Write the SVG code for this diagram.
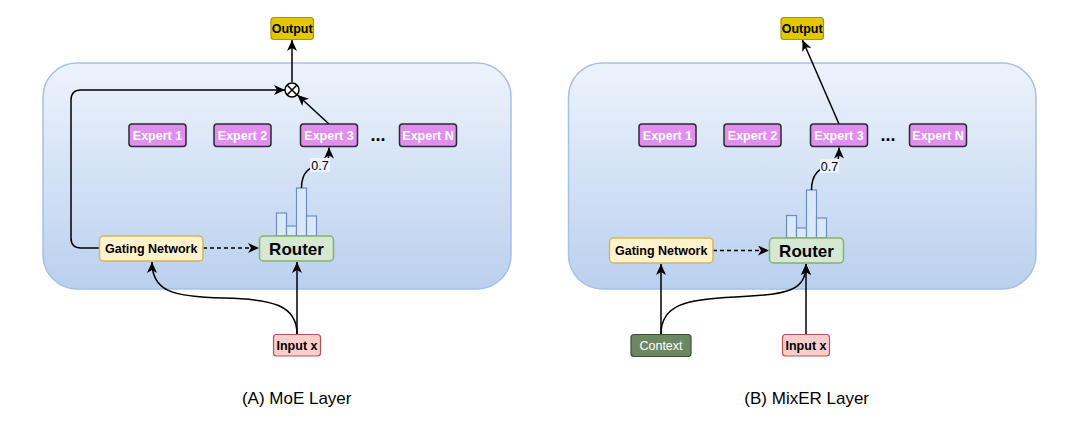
<svg xmlns="http://www.w3.org/2000/svg" width="1080" height="435" viewBox="0 0 1080 435">
<defs>
<linearGradient id="bg" x1="0" y1="0" x2="0" y2="1">
<stop offset="0" stop-color="#edf3fc"/>
<stop offset="1" stop-color="#bad0ee"/>
</linearGradient>
<marker id="arr" markerUnits="userSpaceOnUse" markerWidth="12" markerHeight="10" refX="11" refY="5" orient="auto">
<path d="M0,0 L11,5 L0,10 L3,5 Z" fill="#000"/>
</marker>
<style>
text{font-family:"Liberation Sans",Arial,Helvetica,sans-serif;text-anchor:middle}
.cont{fill:url(#bg);stroke:#a6c0e6;stroke-width:1.5}
.exp rect{fill:#e28ef1;stroke:#2b2b2b;stroke-width:1.5}
.exp text{fill:#fff;font-weight:bold;font-size:12.5px}
.out rect{fill:#e3c800;stroke:#b09500;stroke-width:1.2}
.out text,.inp text,.gate text{fill:#000;font-weight:bold;font-size:12.5px}
.inp rect{fill:#f8cecc;stroke:#b85450;stroke-width:1.2}
.ctx rect{fill:#6d8764;stroke:#3a5431;stroke-width:1.2}
.ctx text{fill:#fff;font-size:12.5px}
.gate rect{fill:#fff2cc;stroke:#d6b656;stroke-width:1.5}
.rout rect{fill:#d5e8d4;stroke:#82b366;stroke-width:1.5}
.rout text{fill:#000;font-weight:bold;font-size:17px}
.bar rect{fill:#dae8fc;stroke:#6c8ebf;stroke-width:1.2}
.dots{font-weight:bold;font-size:18px;fill:#000}
.lbl rect{fill:#eef4fc}
.lbl text{font-size:12.5px;fill:#000}
.cap{font-size:17px;fill:#000}
.c path,.c line{fill:none;stroke:#000;stroke-width:1.5}
.c .a{marker-end:url(#arr)}
.c .d{stroke-dasharray:4 3}
</style>
</defs>

<g id="layerA"><rect class="cont" x="43" y="63" width="468" height="226" rx="34"/></g>
<g id="layerB"><rect class="cont" x="568.5" y="63" width="467.5" height="226" rx="34"/></g>

<g id="histA" class="bar">
<rect x="276.5" y="213" width="10" height="23"/>
<rect x="286.5" y="226" width="10" height="10"/>
<rect x="296.5" y="188" width="10" height="48"/>
<rect x="306.5" y="216" width="10" height="20"/>
</g>
<g id="histB" class="bar">
<rect x="786.5" y="215.5" width="10" height="22.5"/>
<rect x="796.5" y="228" width="10" height="10"/>
<rect x="806.5" y="190" width="10" height="48"/>
<rect x="816.5" y="218" width="10" height="20"/>
</g>

<g id="connectors" class="c">
<path class="a" d="M292,82 V40"/>
<path class="a" d="M329,124 L297.5,95"/>
<path class="a" d="M99,248 H81 Q71,248 71,238 V100 Q71,90 81,90 H285"/>
<path class="a d" d="M203,248 H259"/>
<path class="a" d="M297,334 V262"/>
<path class="a" d="M297,334 C297,305 272,299 224,298 C170,297 152,290 152,262"/>
<path class="a" d="M301.5,188 C301.5,172 310,166 320,166 C328,166 329,160 329,147.5"/>
<path class="a" d="M839,124 L802.5,40"/>
<path class="a d" d="M713,250.5 H769"/>
<path class="a" d="M661,334 V264"/>
<path class="a" d="M806,334 V264"/>
<path class="a" d="M661,334 C661,305 686,299 735,297 C790,295 806,290 806,264"/>
<path class="a" d="M811.5,190 C811.5,174 820,167 829,167 C838,167 839,160 839,147.5"/>
</g>

<g id="mulA">
<circle cx="292" cy="90" r="7" fill="#fff" stroke="#000" stroke-width="1.5"/>
<path d="M287,85 L297,95 M297,85 L287,95" stroke="#000" stroke-width="1.5"/>
</g>

<g id="lblA" class="lbl"><rect x="310" y="158" width="20" height="14"/><text x="320" y="169.5">0.7</text></g>
<g id="lblB" class="lbl"><rect x="820" y="159" width="19" height="14"/><text x="829.5" y="170.5">0.7</text></g>

<g id="outA" class="out"><rect x="271" y="17.5" width="42.5" height="22" rx="3"/><text x="292.2" y="32.8">Output</text></g>
<g id="outB" class="out"><rect x="781" y="17.5" width="42.5" height="22" rx="3"/><text x="802.2" y="32.8">Output</text></g>

<g id="expA1" class="exp"><rect x="129" y="124" width="57" height="22.5" rx="3"/><text x="157.5" y="139.8">Expert 1</text></g>
<g id="expA2" class="exp"><rect x="214" y="124" width="57" height="22.5" rx="3"/><text x="242.5" y="139.8">Expert 2</text></g>
<g id="expA3" class="exp"><rect x="300.5" y="124" width="57" height="22.5" rx="3"/><text x="329" y="139.8">Expert 3</text></g>
<g id="expAN" class="exp"><rect x="399.5" y="124" width="57" height="22.5" rx="3"/><text x="428" y="139.8">Expert N</text></g>
<text class="dots" x="378" y="140.5">...</text>

<g id="expB1" class="exp"><rect x="639" y="124" width="57" height="22.5" rx="3"/><text x="667.5" y="139.8">Expert 1</text></g>
<g id="expB2" class="exp"><rect x="724" y="124" width="57" height="22.5" rx="3"/><text x="752.5" y="139.8">Expert 2</text></g>
<g id="expB3" class="exp"><rect x="810.5" y="124" width="57" height="22.5" rx="3"/><text x="839" y="139.8">Expert 3</text></g>
<g id="expBN" class="exp"><rect x="909.5" y="124" width="57" height="22.5" rx="3"/><text x="938" y="139.8">Expert N</text></g>
<text class="dots" x="888" y="140.5">...</text>

<g id="gateA" class="gate"><rect x="99.5" y="236" width="103.5" height="25" rx="4"/><text x="151.2" y="253">Gating Network</text></g>
<g id="routerA" class="rout"><rect x="259.5" y="236" width="74" height="25" rx="4"/><text x="296.5" y="254.5">Router</text></g>
<g id="gateB" class="gate"><rect x="609.5" y="238" width="103.5" height="25" rx="4"/><text x="661.2" y="255">Gating Network</text></g>
<g id="routerB" class="rout"><rect x="769.5" y="238" width="74" height="25" rx="4"/><text x="806.5" y="256.5">Router</text></g>

<g id="inputA" class="inp"><rect x="273.5" y="334.5" width="47" height="21.5" rx="3"/><text x="297" y="349.5">Input x</text></g>
<g id="inputB" class="inp"><rect x="782.5" y="334.5" width="47" height="21.5" rx="3"/><text x="806" y="349.5">Input x</text></g>
<g id="context" class="ctx"><rect x="631" y="334.5" width="60" height="22" rx="3"/><text x="661" y="350">Context</text></g>

<text class="cap" x="296.7" y="403.5">(A) MoE Layer</text>
<text class="cap" x="806.7" y="403.5">(B) MixER Layer</text>
</svg>
